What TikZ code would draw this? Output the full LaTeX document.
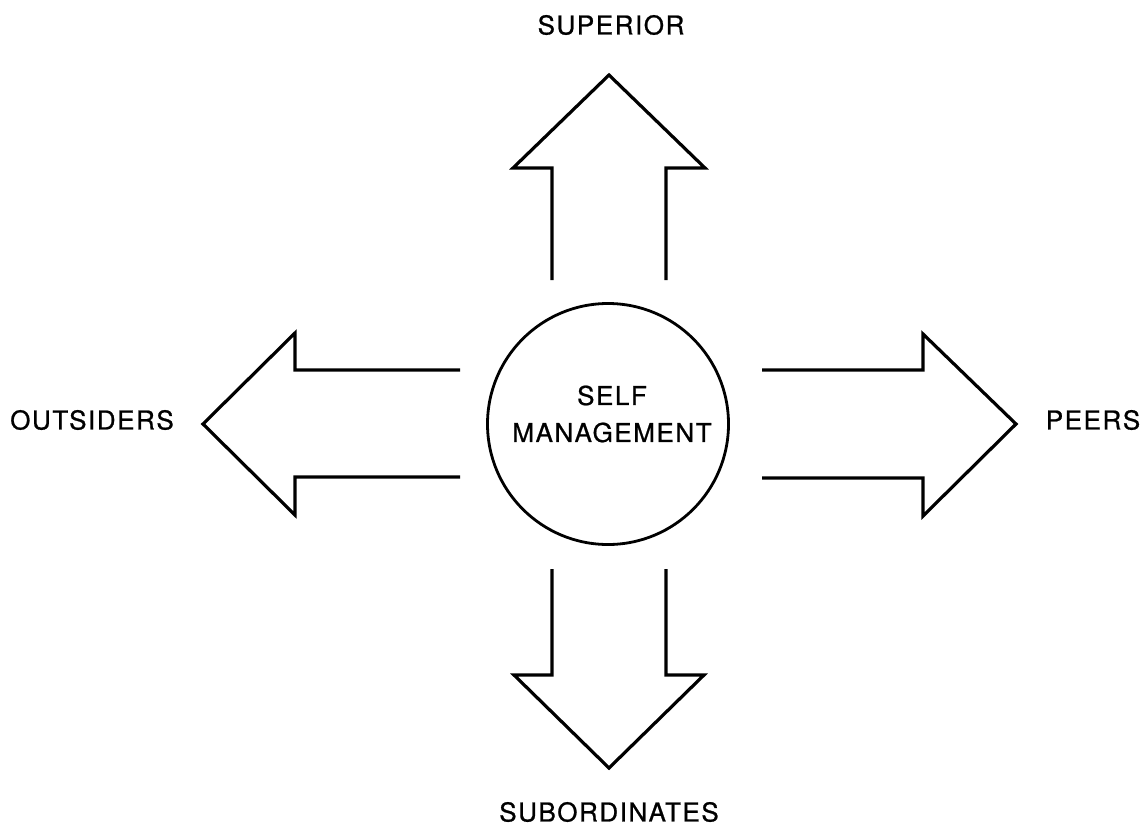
\documentclass[tikz,border=0pt]{standalone}
\usepackage{fontspec}
\setmainfont{TeX Gyre Heros}[LetterSpace=6,FakeBold=0.8]
\begin{document}
\begin{tikzpicture}[x=1pt,y=-1pt,
  lbl/.style={font=\fontsize{26}{37}\selectfont, inner sep=0pt, align=center},
  arrowshape/.style={draw=black, line width=3.2pt, line join=miter, line cap=butt},
  hub/.style={draw=black, line width=2.8pt, circle, minimum size=241pt, inner sep=0pt}]
\useasboundingbox (0,0) rectangle (1143,830);
\fill[white] (0,0) rectangle (1143,830);
% centre
\node[hub] (c) at (608,424) {};
\node[lbl] (t) at (612,414) {SELF\\MANAGEMENT};
% labels
\node[lbl] (sup) at (611,25) {SUPERIOR};
\node[lbl] (sub) at (609,812) {SUBORDINATES};
\node[lbl] (out) at (92,420) {OUTSIDERS};
\node[lbl] (peer) at (1093,420) {PEERS};
% up arrow
\draw[arrowshape] (552,280) -- (552,168) -- (513,168) -- (609,75) -- (705,168) -- (666,168) -- (666,280);
% down arrow
\draw[arrowshape] (552,569) -- (552,675) -- (514,675) -- (609,768) -- (704,675) -- (666,675) -- (666,569);
% left arrow
\draw[arrowshape] (460,370) -- (295,370) -- (295,333) -- (203,424) -- (295,515) -- (295,477) -- (460,477);
% right arrow
\draw[arrowshape] (762,370) -- (923,370) -- (923,334) -- (1016,424) -- (923,516) -- (923,478) -- (762,478);
\end{tikzpicture}
\end{document}
